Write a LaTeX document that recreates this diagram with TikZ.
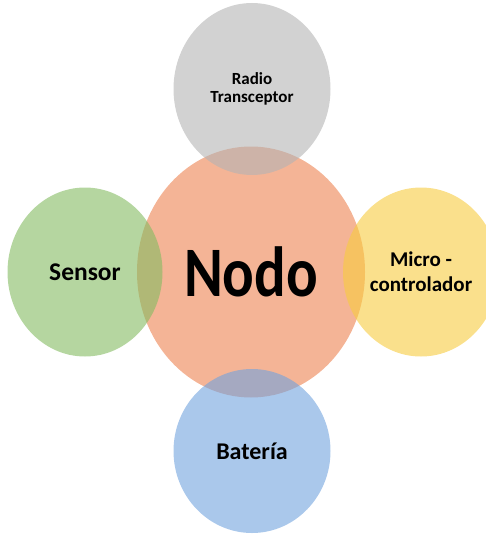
\documentclass[tikz,border=0pt]{standalone}
\usepackage{fontspec}
\setmainfont{Carlito}
\usetikzlibrary{shapes.geometric}
\definecolor{cOrange}{RGB}{237,130,80}
\definecolor{cGray}{RGB}{180,180,180}
\definecolor{cGreen}{RGB}{132,187,97}
\definecolor{cYellow}{RGB}{247,203,63}
\definecolor{cBlue}{RGB}{113,163,222}
\tikzset{
  blob/.style={ellipse, draw=none, inner sep=0pt, fill opacity=0.6, text opacity=1, align=center, font=\bfseries},
}
\begin{document}
\begin{tikzpicture}[x=1pt,y=-1pt]
\useasboundingbox (0,0) rectangle (486,535);
\node[blob, fill=cOrange, minimum width=228pt, minimum height=251pt, font=\bfseries\fontsize{71}{73}\selectfont] (nodo) at (251,272) {\scalebox{0.83}[1]{Nodo}};
\node[blob, fill=cGray, minimum width=157pt, minimum height=172pt, font=\bfseries\fontsize{17}{17.5}\selectfont] (radio) at (252,89) {\raisebox{-4pt}{Radio}\\\raisebox{-4pt}{Transceptor}};
\node[blob, fill=cGreen, minimum width=155pt, minimum height=169pt, font=\bfseries\fontsize{25.5}{27}\selectfont] (sensor) at (85,272) {Sensor};
\node[blob, fill=cYellow, minimum width=156pt, minimum height=169pt, font=\bfseries\fontsize{21}{25}\selectfont] (micro) at (421,272) {Micro -\\controlador};
\node[blob, fill=cBlue, minimum width=157pt, minimum height=164pt, font=\bfseries\fontsize{24}{26}\selectfont] (bat) at (252,451) {Batería};
\end{tikzpicture}
\end{document}
